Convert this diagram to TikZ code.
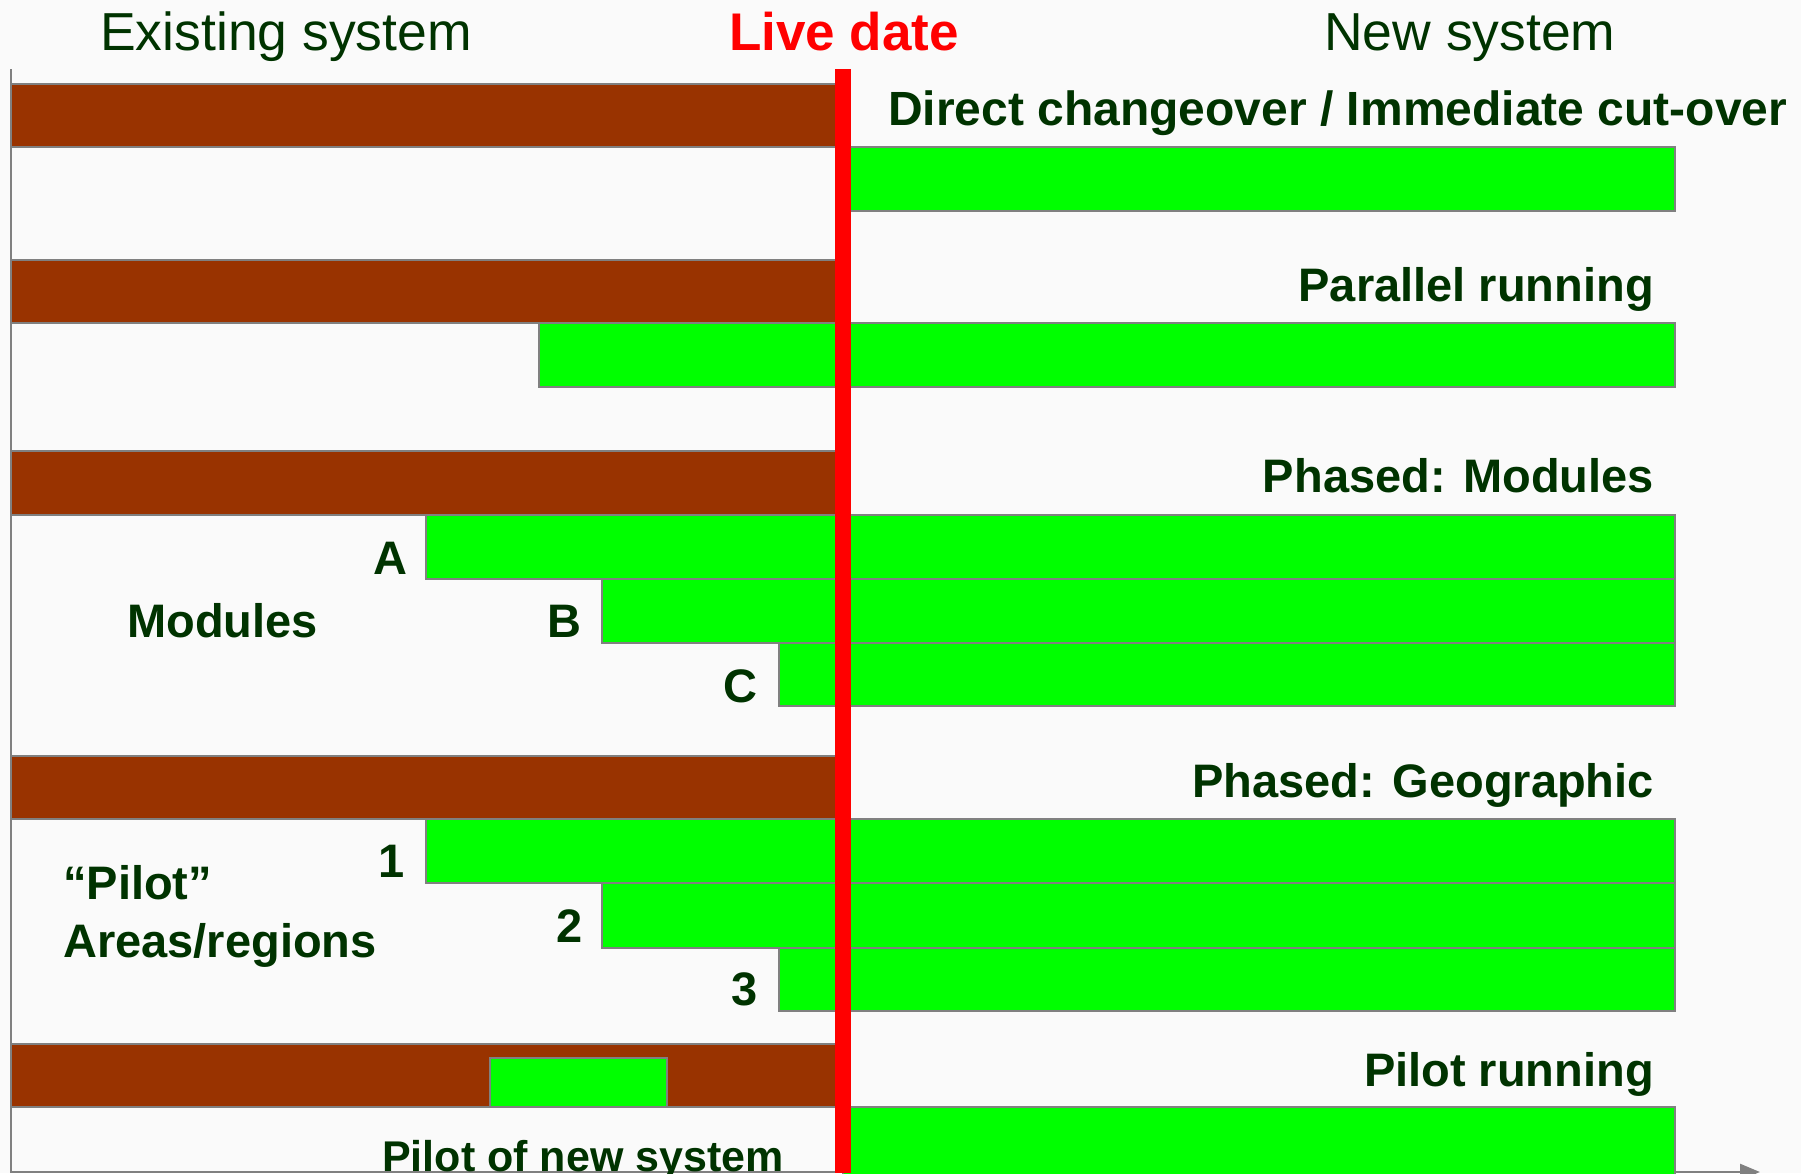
\documentclass[tikz,border=0pt]{standalone}
\usepackage{fontspec}
\setmainfont{Liberation Sans}
\usetikzlibrary{arrows.meta}
\definecolor{brownbar}{HTML}{993300}
\definecolor{greenbar}{HTML}{00FF00}
\definecolor{txtgreen}{HTML}{003300}
\definecolor{edgegray}{HTML}{808080}
\definecolor{bgpale}{HTML}{FAFAFA}
\definecolor{livered}{HTML}{FF0000}
\begin{document}
\begin{tikzpicture}[x=1pt,y=-1pt,
  oldbar/.style={fill=brownbar,draw=edgegray,line width=2pt},
  newbar/.style={fill=greenbar,draw=edgegray,line width=2pt},
  lbl/.style={text=txtgreen,font=\fontsize{47}{56}\selectfont\bfseries,inner sep=0pt},
  head/.style={text=txtgreen,font=\fontsize{53.5}{60}\selectfont,inner sep=0pt},
  axisline/.style={draw=edgegray,line width=2.5pt},
]
\fill[bgpale] (0,0) rectangle (1801,1173);
\useasboundingbox (0,0) rectangle (1801,1173);
\clip (0,0) rectangle (1801,1173);

% headings
\node[head,anchor=base west] (exist) at (100,50) {Existing system};
\node[inner sep=0pt,text=livered,font=\fontsize{53}{60}\selectfont\bfseries,anchor=base west] (live) at (729,50) {Live date};
\node[head,anchor=base west] (newsys) at (1324,50) {New system};

% axes
\draw[axisline] (11,69) -- (11,1173);
\draw[axisline,-{Triangle[length=20pt,width=16pt]}] (11,1172) -- (1760,1172);

% row 1: direct changeover
\path[oldbar] (11,84) rectangle (843,147);
\path[newbar] (843,147) rectangle (1675,211);
\node[lbl,font=\fontsize{48}{56}\selectfont\bfseries,anchor=base west] (direct) at (888,125) {Direct changeover / Immediate cut-over};

% row 2: parallel running
\path[oldbar] (11,260) rectangle (843,323);
\path[newbar] (539,323) rectangle (1675,387);
\node[lbl,anchor=base east] (parallel) at (1654,301) {Parallel running};

% row 3: phased modules
\path[oldbar] (11,451) rectangle (843,515);
\path[newbar] (426,515) rectangle (1675,579);
\path[newbar] (602,579) rectangle (1675,643);
\path[newbar] (779,643) rectangle (1675,706);
\node[lbl,anchor=base east] (phmod) at (1654,492) {Phased: Modules};
\node[lbl,anchor=base east] (la) at (408,574) {A};
\node[lbl,anchor=base east] (lb) at (582,637) {B};
\node[lbl,anchor=base east] (lc) at (758,702) {C};
\node[lbl,anchor=base west] (modules) at (127,637) {Modules};

% row 4: phased geographic
\path[oldbar] (11,756) rectangle (843,819);
\path[newbar] (426,819) rectangle (1675,883);
\path[newbar] (602,883) rectangle (1675,948);
\path[newbar] (779,948) rectangle (1675,1011);
\node[lbl,anchor=base east] (phgeo) at (1654,797) {Phased: Geographic};
\node[lbl,anchor=base east] (l1) at (405,877) {1};
\node[lbl,anchor=base east] (l2) at (583,942) {2};
\node[lbl,anchor=base east] (l3) at (758,1005) {3};
\node[lbl,anchor=base west] (pilotq) at (63,899) {“Pilot”};
\node[lbl,anchor=base west] (areas) at (63,957) {Areas/regions};

% row 5: pilot running
\path[oldbar] (11,1044) rectangle (843,1107);
\path[newbar] (490,1058) rectangle (667,1107);
\path[newbar] (843,1107) rectangle (1675,1190);
\node[lbl,anchor=base east] (pilotrun) at (1654,1086) {Pilot running};
\node[inner sep=0pt,text=txtgreen,font=\fontsize{43}{50}\selectfont\bfseries,anchor=base west] (pilotnew) at (382,1171) {Pilot of new system};

% live date line
\fill[livered] (835,69) rectangle (851,1173);
\end{tikzpicture}
\end{document}
